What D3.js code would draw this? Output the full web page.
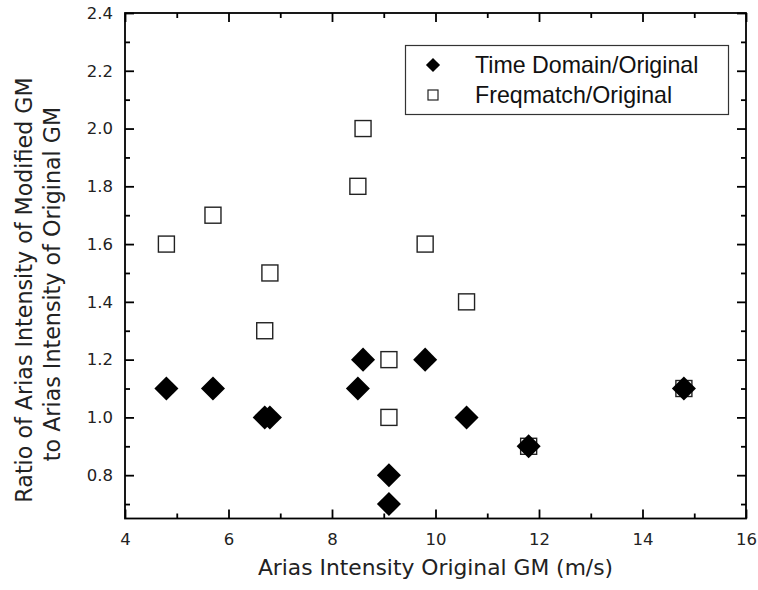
<!DOCTYPE html>
<html>
<head>
<meta charset="utf-8">
<script src="https://cdn.jsdelivr.net/npm/d3@7"></script>
<style>
  html, body { margin: 0; padding: 0; background: #fff; }
  svg { display: block; }
</style>
</head>
<body>
<svg id="chart" width="758" height="590"></svg>
<script>
// Arias intensity of the original ground motions (m/s)
const originalIntensity = [4.8, 5.7, 6.7, 6.8, 8.5, 8.6, 9.1, 9.1, 9.8, 10.6, 11.8, 14.8];
// Ratio of modified to original Arias intensity, per modification method
const timeDomainRatio   = [1.1, 1.1, 1.0, 1.0, 1.1, 1.2, 0.8, 0.7, 1.2, 1.0, 0.9, 1.1];
const freqmatchRatio    = [1.6, 1.7, 1.3, 1.5, 1.8, 2.0, 1.2, 1.0, 1.6, 1.4, 0.9, 1.1];

const xMajorTicks = [4, 6, 8, 10, 12, 14, 16];
const xMinorTicks = [5, 7, 9, 11, 13, 15];
const yMajorTicks = [0.8, 1.0, 1.2, 1.4, 1.6, 1.8, 2.0, 2.2, 2.4];
const yMinorTicks = [0.7, 0.9, 1.1, 1.3, 1.5, 1.7, 1.9, 2.1, 2.3];

const seriesNames = ["Time Domain/Original", "Freqmatch/Original"];
const xTitle = "Arias Intensity Original GM (m/s)";
const yTitleLines = ["Ratio of Arias Intensity of Modified GM", "to Arias Intensity of Original GM"];

const svg = d3.select("#chart");
const plotLeft = 125, plotRight = 746, plotTop = 13, plotBottom = 518.5;

const x = d3.scaleLinear().domain([4, 16]).range([plotLeft, plotRight]);
const y = d3.scaleLinear().domain([0.65, 2.4]).range([plotBottom, plotTop]);

const tickFont = "DejaVu Sans, Verdana, sans-serif";
const majorLen = 9, minorLen = 5, axisW = 1.8;

function styleAxis(g) {
  g.select(".domain").remove();
  g.selectAll("line").attr("stroke", "#000").attr("stroke-width", axisW);
  g.selectAll("text").attr("font-family", tickFont).attr("font-size", 16.5).attr("fill", "#222");
}

// bottom axis with labels, ticks pointing inward
svg.append("g").attr("transform", `translate(0,${plotBottom})`)
  .call(d3.axisBottom(x).tickValues(xMajorTicks).tickFormat(d3.format("d"))
        .tickSizeInner(-majorLen).tickSizeOuter(0).tickPadding(15))
  .call(styleAxis);
svg.append("g").attr("transform", `translate(0,${plotBottom})`)
  .call(d3.axisBottom(x).tickValues(xMinorTicks).tickFormat("").tickSizeInner(-minorLen).tickSizeOuter(0))
  .call(styleAxis);
// top mirror ticks
svg.append("g").attr("transform", `translate(0,${plotTop})`)
  .call(d3.axisTop(x).tickValues(xMajorTicks).tickFormat("").tickSizeInner(-majorLen).tickSizeOuter(0))
  .call(styleAxis);
svg.append("g").attr("transform", `translate(0,${plotTop})`)
  .call(d3.axisTop(x).tickValues(xMinorTicks).tickFormat("").tickSizeInner(-minorLen).tickSizeOuter(0))
  .call(styleAxis);

// left axis with labels
svg.append("g").attr("transform", `translate(${plotLeft},0)`)
  .call(d3.axisLeft(y).tickValues(yMajorTicks).tickFormat(d3.format(".1f"))
        .tickSizeInner(-majorLen).tickSizeOuter(0).tickPadding(12))
  .call(styleAxis);
svg.append("g").attr("transform", `translate(${plotLeft},0)`)
  .call(d3.axisLeft(y).tickValues(yMinorTicks).tickFormat("").tickSizeInner(-minorLen).tickSizeOuter(0))
  .call(styleAxis);
// right mirror ticks
svg.append("g").attr("transform", `translate(${plotRight},0)`)
  .call(d3.axisRight(y).tickValues(yMajorTicks).tickFormat("").tickSizeInner(-majorLen).tickSizeOuter(0))
  .call(styleAxis);
svg.append("g").attr("transform", `translate(${plotRight},0)`)
  .call(d3.axisRight(y).tickValues(yMinorTicks).tickFormat("").tickSizeInner(-minorLen).tickSizeOuter(0))
  .call(styleAxis);

// frame
svg.append("rect")
  .attr("x", plotLeft).attr("y", plotTop)
  .attr("width", plotRight - plotLeft).attr("height", plotBottom - plotTop)
  .attr("fill", "none").attr("stroke", "#000").attr("stroke-width", axisW);

// axis titles
svg.append("text")
  .attr("x", (plotLeft + plotRight) / 2).attr("y", 575)
  .attr("text-anchor", "middle")
  .attr("font-family", tickFont).attr("font-size", 21.8).attr("fill", "#222")
  .text(xTitle);

const yTitleX = [31.5, 59.5];
const yTitleCenter = [290, 284];
yTitleLines.forEach((line, i) => {
  svg.append("text")
    .attr("transform", `translate(${yTitleX[i]},${yTitleCenter[i]}) rotate(-90)`)
    .attr("text-anchor", "middle")
    .attr("font-family", tickFont).attr("font-size", 22.2).attr("fill", "#222")
    .text(line);
});

// markers
const squareSide = 16;
const diamond = d3.symbol().type(d3.symbolSquare).size(17 * 17);

const points = originalIntensity.map((v, i) => ({ gm: v, td: timeDomainRatio[i], fm: freqmatchRatio[i] }));

svg.append("g").selectAll("rect")
  .data(points).join("rect")
  .attr("x", d => x(d.gm) - squareSide / 2)
  .attr("y", d => y(d.fm) - squareSide / 2)
  .attr("width", squareSide).attr("height", squareSide)
  .attr("fill", "#fff").attr("stroke", "#222").attr("stroke-width", 1.4);

svg.append("g").selectAll("path")
  .data(points).join("path")
  .attr("d", diamond)
  .attr("transform", d => `translate(${x(d.gm)},${y(d.td)}) rotate(45)`)
  .attr("fill", "#000");

// legend
const legend = svg.append("g");
legend.append("rect")
  .attr("x", 405.5).attr("y", 45.5).attr("width", 323).attr("height", 69)
  .attr("fill", "#fff").attr("stroke", "#333").attr("stroke-width", 1.2);
legend.append("path")
  .attr("d", d3.symbol().type(d3.symbolSquare).size(10 * 10))
  .attr("transform", "translate(433,65) rotate(45)")
  .attr("fill", "#000");
legend.append("rect")
  .attr("x", 428).attr("y", 90).attr("width", 10).attr("height", 10)
  .attr("fill", "#fff").attr("stroke", "#222").attr("stroke-width", 1.2);
seriesNames.forEach((name, i) => {
  legend.append("text")
    .attr("x", 475).attr("y", 73 + i * 30)
    .attr("font-family", "Liberation Sans, Arial, sans-serif")
    .attr("font-size", 23.2).attr("fill", "#111")
    .text(name);
});
</script>
</body>
</html>
